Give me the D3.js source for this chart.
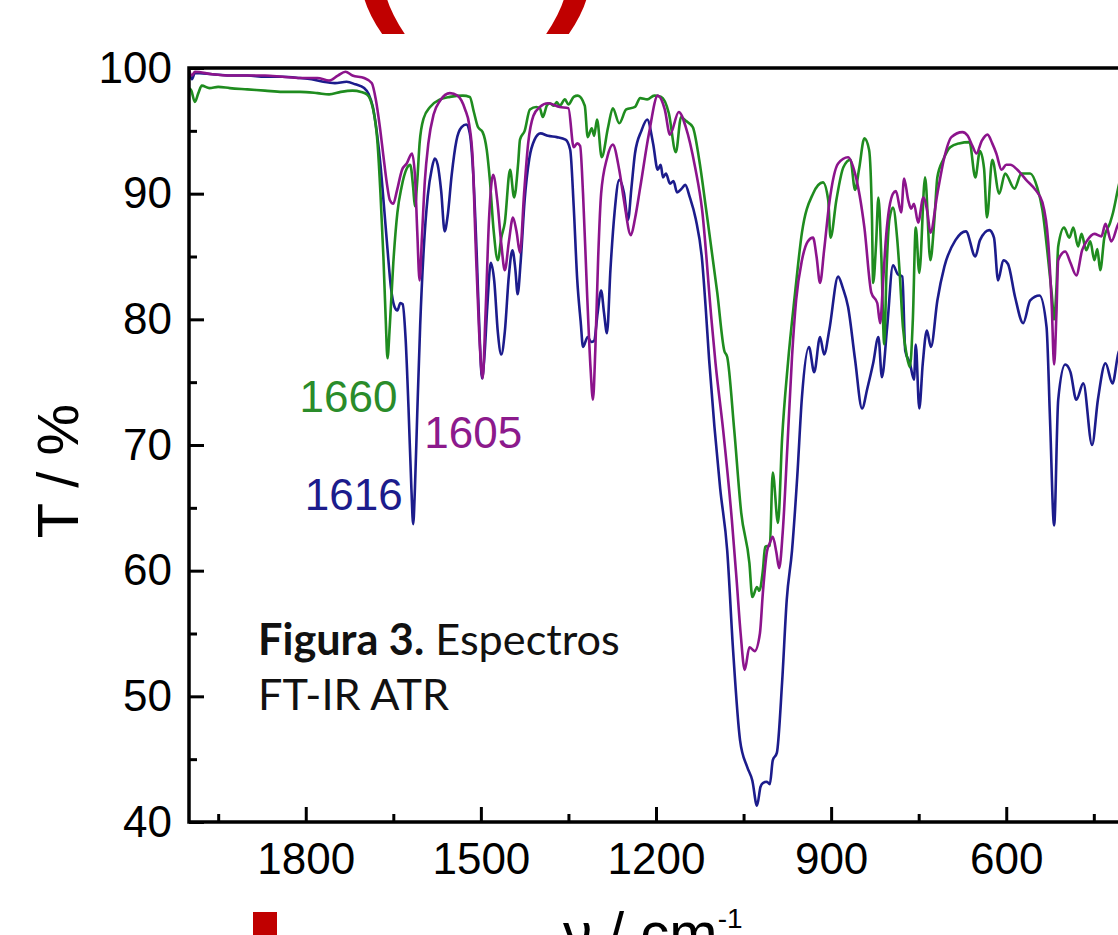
<!DOCTYPE html>
<html>
<head>
<meta charset="utf-8">
<script src="https://cdn.jsdelivr.net/npm/d3@7"></script>
<style>
  html, body { margin: 0; padding: 0; background: #fff; }
  svg { display: block; }
</style>
</head>
<body>
<div id="container"></div>
<script>
// ---- data: [wavenumber cm-1, T %] ----
var navySpectrum = [
  [2000, 99.7], [1995, 99.1], [1990, 99.6], [1960, 99.5], [1930, 99.4], [1900, 99.4], [1870, 99.3],
  [1840, 99.3], [1810, 99.2], [1790, 99.1], [1770, 98.9], [1750, 98.8], [1730, 98.9], [1715, 98.7],
  [1700, 98.4], [1692, 97.9], [1685, 96.9], [1678, 94.8], [1672, 92.3], [1666, 89.0], [1660, 85.6],
  [1654, 82.5], [1648, 81.0], [1643, 80.7], [1638, 81.3], [1634, 81.2], [1629, 78.5], [1624, 73.0],
  [1619, 66.5], [1616, 63.7], [1613, 66.5], [1609, 72.5], [1604, 79.5], [1598, 85.5], [1591, 89.8],
  [1584, 92.0], [1579, 92.8], [1574, 92.3], [1568, 90.2], [1562, 87.0], [1557, 88.2], [1550, 91.5],
  [1542, 94.2], [1533, 95.3], [1525, 95.5], [1519, 94.8], [1513, 91.5], [1507, 85.0], [1502, 78.5],
  [1498, 75.3], [1494, 77.0], [1489, 81.0], [1483, 84.5], [1477, 83.0], [1471, 79.0], [1465, 77.2],
  [1459, 79.0], [1452, 83.5], [1446, 85.5], [1441, 84.0], [1437, 82.0], [1432, 84.5], [1425, 89.5],
  [1417, 92.8], [1408, 94.3], [1398, 94.8], [1385, 94.6], [1370, 94.5], [1355, 94.3], [1347, 93.5],
  [1341, 89.0], [1335, 83.2], [1329, 79.8], [1325, 77.8], [1317, 78.6], [1311, 78.2], [1306, 78.3],
  [1300, 80.5], [1294, 82.3], [1289, 80.5], [1284, 78.9], [1278, 84.0], [1271, 88.5], [1263, 91.1],
  [1255, 90.1], [1248, 87.9], [1242, 90.5], [1236, 93.2], [1225, 95.0], [1215, 95.9], [1205, 94.0],
  [1197, 91.9], [1192, 92.3], [1188, 91.3], [1183, 91.6], [1176, 90.8], [1170, 91.0], [1164, 90.1],
  [1156, 90.4], [1150, 90.7], [1142, 89.7], [1132, 88.0], [1121, 84.7], [1115, 81.0], [1109, 76.8],
  [1100, 71.5], [1090, 66.5], [1078, 61.6], [1068, 53.7], [1056, 46.5], [1044, 44.4], [1035, 43.3],
  [1027, 41.3], [1021, 42.8], [1017, 43.1], [1010, 43.2], [1005, 43.0], [1000, 44.9], [993, 45.5],
  [984, 51.1], [976, 57.7], [967, 61.6], [958, 67.5], [950, 73.8], [938, 77.8], [929, 75.8],
  [919, 78.6], [912, 77.2], [903, 79.2], [888, 83.4], [880, 82.5], [871, 81.0], [859, 76.8],
  [847, 72.9], [838, 74.5], [828, 76.5], [819, 78.6], [813, 75.4], [804, 79.4], [794, 84.3],
  [786, 83.6], [778, 83.4], [773, 77.5], [765, 76.5], [758, 75.2], [755, 78.0], [749, 72.9],
  [743, 76.5], [736, 79.1], [729, 77.8], [718, 81.5], [706, 84.2], [687, 86.3], [669, 87.0],
  [653, 85.0], [645, 86.3], [629, 87.1], [621, 86.5], [614, 83.1], [605, 84.7], [597, 84.4],
  [585, 81.8], [571, 79.7], [559, 81.5], [543, 81.9], [531, 79.4], [525, 72.0], [518, 63.6],
  [511, 73.6], [499, 76.4], [490, 75.8], [480, 73.6], [468, 74.9], [453, 70.0], [443, 73.6],
  [430, 76.5], [418, 74.9], [408, 77.3], [400, 78.0]
];

var greenSpectrum = [
  [2000, 98.4], [1996, 98.2], [1990, 97.3], [1984, 98.0], [1978, 98.6], [1965, 98.4], [1950, 98.5],
  [1930, 98.4], [1900, 98.3], [1870, 98.2], [1840, 98.1], [1810, 98.1], [1780, 98.0], [1760, 97.9],
  [1740, 98.1], [1720, 98.2], [1705, 98.1], [1695, 97.9], [1685, 96.8], [1677, 94.0], [1672, 90.0],
  [1667, 85.0], [1663, 80.0], [1660, 76.9], [1656, 79.5], [1650, 84.5], [1643, 88.5], [1636, 90.5],
  [1627, 92.0], [1621, 92.3], [1616, 90.5], [1613, 89.0], [1609, 91.0], [1605, 94.0], [1598, 96.0],
  [1587, 96.9], [1570, 97.5], [1553, 97.7], [1531, 97.8], [1519, 97.7], [1512, 96.5], [1505, 95.3],
  [1497, 94.9], [1490, 93.5], [1485, 91.3], [1478, 87.0], [1471, 84.7], [1465, 86.5], [1459, 87.7],
  [1450, 91.9], [1443, 89.7], [1436, 92.5], [1433, 94.3], [1425, 95.0], [1416, 96.7], [1405, 96.9],
  [1399, 96.8], [1394, 96.1], [1387, 97.0], [1382, 97.2], [1375, 97.0], [1370, 97.3], [1365, 97.0],
  [1356, 97.5], [1350, 97.1], [1341, 97.7], [1334, 97.8], [1322, 97.0], [1317, 94.5], [1310, 95.2],
  [1306, 94.6], [1301, 95.9], [1293, 92.9], [1282, 95.3], [1274, 96.8], [1263, 95.6], [1251, 96.7],
  [1236, 96.9], [1227, 97.6], [1215, 97.5], [1203, 97.8], [1191, 97.7], [1178, 96.4], [1166, 93.3],
  [1157, 96.1], [1149, 95.8], [1137, 95.3], [1126, 92.7], [1114, 88.7], [1095, 82.1], [1083, 77.5],
  [1078, 77.0], [1066, 71.2], [1054, 64.6], [1040, 60.6], [1035, 57.9], [1027, 58.7], [1023, 58.4],
  [1017, 60.0], [1013, 61.9], [1005, 62.0], [1000, 67.8], [991, 63.8], [984, 70.5], [974, 76.5],
  [962, 82.0], [950, 86.9], [931, 90.0], [914, 90.9], [905, 89.5], [901, 86.5], [891, 89.5],
  [879, 92.1], [867, 92.7], [859, 90.3], [852, 92.0], [843, 94.4], [835, 93.5], [830, 88.0],
  [828, 82.9], [823, 86.0], [819, 89.7], [814, 85.0], [809, 78.0], [805, 84.0], [800, 88.0],
  [794, 88.9], [787, 86.5], [783, 84.0], [777, 79.4], [770, 77.0], [765, 76.2], [760, 80.0],
  [755, 87.3], [749, 83.7], [739, 91.3], [730, 84.7], [723, 88.0], [718, 91.3], [708, 92.7],
  [696, 93.7], [681, 94.0], [663, 94.1], [653, 91.3], [645, 93.4], [638, 92.0], [633, 88.1],
  [624, 92.7], [612, 90.0], [602, 91.6], [586, 90.4], [574, 91.6], [559, 91.6], [547, 90.5],
  [538, 88.7], [528, 84.7], [522, 82.0], [518, 80.0], [514, 82.5], [511, 85.8], [501, 87.3],
  [492, 86.5], [485, 87.3], [477, 85.8], [471, 86.8], [463, 85.5], [456, 86.2], [449, 84.7],
  [444, 85.6], [439, 83.9], [432, 86.5], [422, 87.7], [417, 88.5], [408, 90.5], [400, 92.0]
];

var purpleSpectrum = [
  [2000, 99.8], [1995, 99.4], [1990, 99.7], [1960, 99.5], [1930, 99.4], [1900, 99.4], [1870, 99.4],
  [1840, 99.3], [1810, 99.2], [1780, 99.2], [1760, 99.0], [1745, 99.4], [1732, 99.7], [1720, 99.4],
  [1700, 99.2], [1687, 98.8], [1680, 97.5], [1673, 95.3], [1667, 93.0], [1661, 90.8], [1656, 89.5],
  [1650, 89.2], [1644, 90.2], [1635, 91.9], [1627, 92.4], [1618, 93.2], [1613, 91.5], [1609, 87.0],
  [1605, 83.1], [1601, 86.5], [1596, 91.0], [1590, 94.0], [1581, 96.3], [1570, 97.4], [1553, 98.0],
  [1540, 97.8], [1527, 96.7], [1520, 95.5], [1514, 92.7], [1509, 86.0], [1503, 79.0], [1497, 75.3],
  [1492, 80.5], [1486, 88.0], [1479, 91.5], [1472, 89.5], [1465, 86.0], [1459, 83.9], [1452, 86.2],
  [1445, 88.1], [1439, 87.0], [1433, 85.3], [1426, 90.0], [1419, 94.0], [1410, 96.2], [1399, 96.9],
  [1385, 97.2], [1365, 96.9], [1350, 96.8], [1341, 93.7], [1335, 94.0], [1330, 93.8], [1325, 90.0],
  [1318, 82.0], [1312, 76.0], [1308, 73.6], [1304, 77.5], [1299, 85.0], [1294, 90.0], [1284, 92.8],
  [1274, 93.9], [1263, 91.9], [1255, 89.5], [1243, 86.7], [1236, 88.0], [1227, 90.5], [1212, 94.8],
  [1197, 97.8], [1185, 96.7], [1176, 94.7], [1161, 96.5], [1149, 95.3], [1133, 92.1], [1121, 88.7],
  [1105, 80.0], [1098, 76.5], [1085, 71.2], [1070, 64.0], [1062, 59.3], [1055, 55.0], [1048, 52.1],
  [1040, 53.9], [1031, 53.6], [1022, 55.0], [1017, 58.2], [1010, 61.5], [1005, 62.2], [1000, 62.7],
  [994, 61.5], [989, 60.2], [983, 63.0], [975, 69.8], [967, 77.0], [960, 81.5], [950, 84.7],
  [940, 86.2], [931, 86.5], [925, 85.0], [919, 82.9], [912, 85.5], [903, 89.3], [888, 92.4],
  [871, 92.9], [859, 91.6], [843, 87.3], [831, 82.1], [821, 81.3], [816, 79.7], [811, 83.0],
  [806, 86.5], [794, 90.0], [789, 90.2], [780, 88.5], [775, 91.2], [768, 89.5], [763, 88.8],
  [758, 89.2], [751, 87.7], [742, 89.7], [735, 88.5], [730, 86.9], [718, 90.0], [706, 92.9],
  [694, 94.5], [675, 94.9], [666, 94.6], [658, 93.8], [651, 93.2], [642, 94.2], [632, 94.7],
  [624, 94.0], [617, 93.2], [608, 91.9], [600, 92.3], [593, 92.3], [581, 91.9], [566, 91.1],
  [550, 90.3], [538, 89.3], [528, 86.1], [522, 81.0], [518, 76.4], [514, 80.5], [511, 84.7],
  [499, 85.4], [490, 84.5], [480, 83.5], [470, 85.5], [461, 86.3], [449, 86.8], [437, 86.6],
  [430, 87.6], [420, 86.2], [408, 87.6], [400, 88.0]
];

var xMajorTicks = [1800, 1500, 1200, 900, 600];
var xMinorTicks = [1950, 1650, 1350, 1050, 750, 450];
var yMajorTicks = [40, 50, 60, 70, 80, 90, 100];
var yMinorTicks = [45, 55, 65, 75, 85, 95];

// peak labels: text, wavenumber / T where the text is anchored
var peakLabels = [
  {text: "1660", wn: 1643, t: 72.6, anchor: "end",   color: "#2a8c2a"},
  {text: "1605", wn: 1597, t: 69.8, anchor: "start", color: "#8c1a8c"},
  {text: "1616", wn: 1634, t: 64.8, anchor: "end",   color: "#1c1c8c"}
];

(function(){
    var width = 1118, height = 935;
    var plot = {left: 189, right: 1123, top: 68, bottom: 822};
    var axisFont = "'Liberation Sans', Arial, sans-serif";

    var svg = d3.select("#container")
        .append("svg")
        .attr("width", width)
        .attr("height", height);

    var x = d3.scaleLinear().domain([2000, 400]).range([plot.left, plot.right]);
    var y = d3.scaleLinear().domain([40, 100]).range([plot.bottom, plot.top]);

    //clip the spectra to the frame
    svg.append("clipPath").attr("id", "plotclip")
        .append("rect")
        .attr("x", plot.left).attr("y", plot.top - 2)
        .attr("width", plot.right - plot.left).attr("height", plot.bottom - plot.top + 4);

    var line = d3.line()
        .x(function(d){ return x(d[0]); })
        .y(function(d){ return y(d[1]); })
        .curve(d3.curveMonotoneX);

    var series = [
        {data: navySpectrum, color: "#1c1c8c"},
        {data: greenSpectrum, color: "#1f8c1f"},
        {data: purpleSpectrum, color: "#8c148c"}
    ];

    svg.append("g").attr("clip-path", "url(#plotclip)")
        .selectAll("path")
        .data(series)
        .enter().append("path")
        .attr("d", function(d){ return line(d.data); })
        .attr("fill", "none")
        .attr("stroke", function(d){ return d.color; })
        .attr("stroke-width", 2.6)
        .attr("stroke-linejoin", "round");

    //axes: ticks point inward
    function styleAxis(g){
        g.select(".domain").remove();
        g.selectAll(".tick line").attr("stroke", "#000").attr("stroke-width", 3);
        g.attr("font-family", axisFont).attr("font-size", 44);
        g.selectAll(".tick text").attr("fill", "#000");
    }

    svg.append("g")
        .attr("transform", "translate(0," + plot.bottom + ")")
        .call(d3.axisBottom(x).tickValues(xMinorTicks).tickSizeInner(-8).tickSizeOuter(0).tickFormat(""))
        .call(styleAxis);
    svg.append("g")
        .attr("transform", "translate(0," + plot.bottom + ")")
        .call(d3.axisBottom(x).tickValues(xMajorTicks).tickSizeInner(-15).tickSizeOuter(0).tickPadding(21).tickFormat(d3.format("d")))
        .call(styleAxis);
    svg.append("g")
        .attr("transform", "translate(" + plot.left + ",0)")
        .call(d3.axisLeft(y).tickValues(yMinorTicks).tickSizeInner(-8).tickSizeOuter(0).tickFormat(""))
        .call(styleAxis);
    svg.append("g")
        .attr("transform", "translate(" + plot.left + ",0)")
        .call(d3.axisLeft(y).tickValues(yMajorTicks).tickSizeInner(-15).tickSizeOuter(0).tickPadding(17).tickFormat(d3.format("d")))
        .call(styleAxis);

    //frame
    svg.append("rect")
        .attr("x", plot.left).attr("y", plot.top)
        .attr("width", plot.right - plot.left).attr("height", plot.bottom - plot.top)
        .attr("fill", "none").attr("stroke", "#000").attr("stroke-width", 3.5);

    //peak labels
    svg.selectAll(".peak")
        .data(peakLabels)
        .enter().append("text")
        .attr("class", "peak")
        .attr("x", function(d){ return x(d.wn); })
        .attr("y", function(d){ return y(d.t); })
        .attr("text-anchor", function(d){ return d.anchor; })
        .attr("font-family", axisFont)
        .attr("font-size", 44)
        .attr("fill", function(d){ return d.color; })
        .text(function(d){ return d.text; });

    //axis titles
    svg.append("text")
        .attr("transform", "translate(78,471) rotate(-90)")
        .attr("text-anchor", "middle")
        .attr("font-family", axisFont)
        .attr("font-size", 58)
        .text("T / %");

    var xt = svg.append("text")
        .attr("x", 563).attr("y", 953)
        .attr("font-family", axisFont)
        .attr("font-size", 58);
    xt.append("tspan").text("\u03bd / cm");
    xt.append("tspan").attr("font-size", 28).attr("dy", -25).text("-1");

    //caption
    var capFont = "Lato, 'Open Sans', sans-serif";
    var cap1 = svg.append("text").attr("x", 258).attr("y", 655)
        .attr("font-family", capFont).attr("font-size", 40).attr("fill", "#111");
    cap1.append("tspan").attr("font-weight", "bold").text("Figura 3.");
    cap1.append("tspan").text(" Espectros");
    var capSize = 40 * 362 / cap1.node().getComputedTextLength();
    cap1.attr("font-size", capSize);
    svg.append("text").attr("x", 258).attr("y", 710)
        .attr("font-family", capFont).attr("font-size", capSize).attr("fill", "#111")
        .text("FT-IR ATR");

    //red marks cropped at the edges of the picture
    svg.append("text").attr("x", 350).attr("y", 0)
        .attr("font-family", axisFont).attr("font-weight", "bold")
        .attr("font-size", 165).attr("fill", "#c00000").text("(");
    svg.append("text").attr("x", 546).attr("y", 0)
        .attr("font-family", axisFont).attr("font-weight", "bold")
        .attr("font-size", 165).attr("fill", "#c00000").text(")");
    svg.append("rect").attr("x", 253).attr("y", 912)
        .attr("width", 24).attr("height", 30).attr("fill", "#c00000");
})();
</script>
</body>
</html>
